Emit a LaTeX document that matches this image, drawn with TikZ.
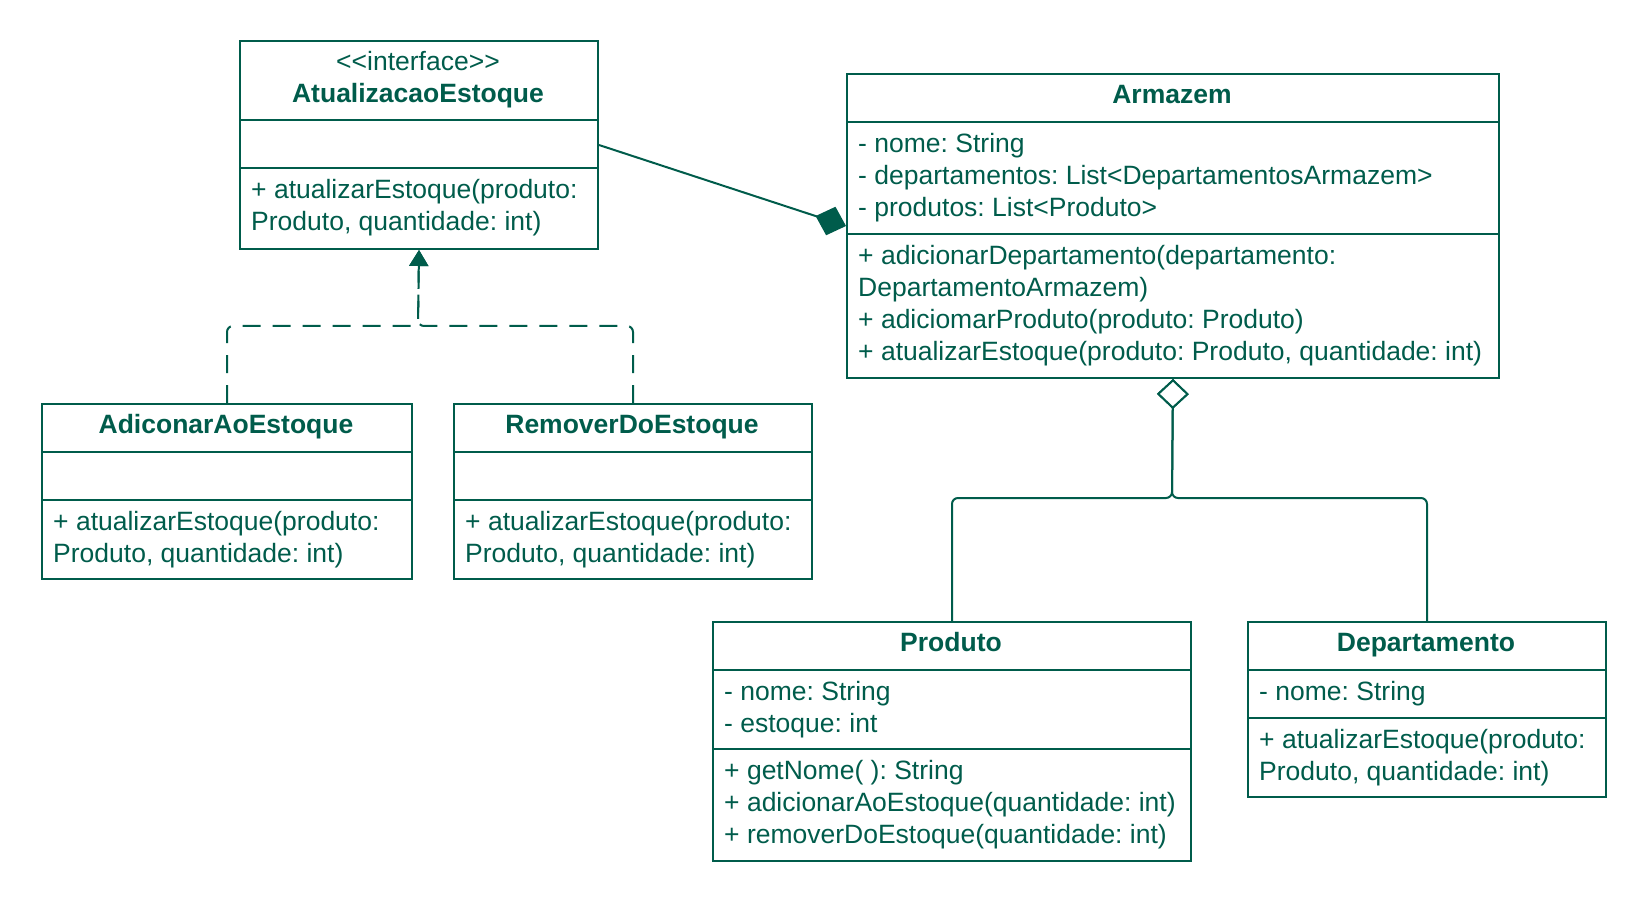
\documentclass[tikz,border=0pt]{standalone}
\usepackage{fontspec}
\setmainfont{Liberation Sans}
\usetikzlibrary{arrows.meta}
\definecolor{uml}{HTML}{005C4B}
\frenchspacing
\begin{document}
\begin{tikzpicture}[x=1pt,y=-1pt,
  cls/.style={draw=uml, line width=2pt, anchor=north west, inner sep=0pt, rectangle},
  txt/.style={anchor=base west, inner sep=0pt, yshift=-1.5pt, text=uml, font=\fontsize{26.5}{32}\selectfont\frenchspacing},
  ttl/.style={anchor=base, inner sep=0pt, yshift=-1.5pt, text=uml, font=\fontsize{26.5}{32}\selectfont\bfseries},
  stereo/.style={anchor=base, inner sep=0pt, yshift=-2.5pt, text=uml, font=\fontsize{26.5}{32}\selectfont},
  conn/.style={draw=uml, line width=2pt},
  realize/.style={conn, dash pattern=on 18pt off 12pt, rounded corners=6pt, -{Triangle[length=16pt,width=19pt]}},
  compose/.style={conn, -{Diamond[length=32pt,width=30pt]}},
  aggreg/.style={conn, rounded corners=6pt, -{Diamond[open,length=30pt,width=32pt,fill=white]}}
]
\useasboundingbox (0,0) rectangle (1644,901);

% ---------- AtualizacaoEstoque ----------
\node[cls, minimum width=358pt, minimum height=208pt] (iface) at (239,40) {};
\node[cls, minimum width=358pt, minimum height=79pt] (ifaceH) at (239,40) {};
\node[cls, minimum width=358pt, minimum height=48pt] (ifaceA) at (239,119) {};
\node[cls, minimum width=358pt, minimum height=81pt] (ifaceM) at (239,167) {};
\node[stereo] (ifaceS) at (418,68) {<\kern0pt<interface>\kern0pt>};
\node[ttl] (ifaceT) at (418,101) {AtualizacaoEstoque};
\node[txt] (ifaceM1) at (251,197) {+ atualizarEstoque(produto:};
\node[txt] (ifaceM2) at (251,229) {Produto, quantidade: int)};

% ---------- Armazem ----------
\node[cls, minimum width=652pt, minimum height=304pt] (arm) at (846,73) {};
\node[cls, minimum width=652pt, minimum height=48pt] (armH) at (846,73) {};
\node[cls, minimum width=652pt, minimum height=112pt] (armA) at (846,121) {};
\node[cls, minimum width=652pt, minimum height=144pt] (armM) at (846,233) {};
\node[ttl] (armT) at (1172,102) {Armazem};
\node[txt] (armA1) at (858,151) {- nome: String};
\node[txt] (armA2) at (858,183) {- departamentos: List<DepartamentosArmazem>};
\node[txt] (armA3) at (858,215) {- produtos: List<Produto>};
\node[txt] (armM1) at (858,263) {+ adicionarDepartamento(departamento:};
\node[txt] (armM2) at (858,295) {DepartamentoArmazem)};
\node[txt] (armM3) at (858,327) {+ adiciomarProduto(produto: Produto)};
\node[txt] (armM4) at (858,359) {+ atualizarEstoque(produto: Produto, quantidade: int)};

% ---------- AdiconarAoEstoque ----------
\node[cls, minimum width=370pt, minimum height=175pt] (add) at (41,403) {};
\node[cls, minimum width=370pt, minimum height=48pt] (addH) at (41,403) {};
\node[cls, minimum width=370pt, minimum height=48pt] (addA) at (41,451) {};
\node[ttl] (addT) at (226,432) {AdiconarAoEstoque};
\node[txt] (addM1) at (53,529) {+ atualizarEstoque(produto:};
\node[txt] (addM2) at (53,561) {Produto, quantidade: int)};

% ---------- RemoverDoEstoque ----------
\node[cls, minimum width=358pt, minimum height=175pt] (rem) at (453,403) {};
\node[cls, minimum width=358pt, minimum height=48pt] (remH) at (453,403) {};
\node[cls, minimum width=358pt, minimum height=48pt] (remA) at (453,451) {};
\node[ttl] (remT) at (632,432) {RemoverDoEstoque};
\node[txt] (remM1) at (465,529) {+ atualizarEstoque(produto:};
\node[txt] (remM2) at (465,561) {Produto, quantidade: int)};

% ---------- Produto ----------
\node[cls, minimum width=478pt, minimum height=239pt] (prod) at (712,621) {};
\node[cls, minimum width=478pt, minimum height=48pt] (prodH) at (712,621) {};
\node[cls, minimum width=478pt, minimum height=79pt] (prodA) at (712,669) {};
\node[ttl] (prodT) at (951,650) {Produto};
\node[txt] (prodA1) at (724,699) {- nome: String};
\node[txt] (prodA2) at (724,731) {- estoque: int};
\node[txt] (prodM1) at (724,778) {+ getNome( ): String};
\node[txt] (prodM2) at (724,810) {+ adicionarAoEstoque(quantidade: int)};
\node[txt] (prodM3) at (724,842) {+ removerDoEstoque(quantidade: int)};

% ---------- Departamento ----------
\node[cls, minimum width=358pt, minimum height=175pt] (dep) at (1247,621) {};
\node[cls, minimum width=358pt, minimum height=48pt] (depH) at (1247,621) {};
\node[cls, minimum width=358pt, minimum height=48pt] (depA) at (1247,669) {};
\node[ttl] (depT) at (1426,650) {Departamento};
\node[txt] (depA1) at (1259,699) {- nome: String};
\node[txt] (depM1) at (1259,747) {+ atualizarEstoque(produto:};
\node[txt] (depM2) at (1259,779) {Produto, quantidade: int)};

% ---------- connectors ----------
\coordinate (rj) at (418,326);
\coordinate (aj) at (1172,498);

\draw[compose] (iface.east) -- (arm.west);
\draw[realize] (add.north) |- (rj) -- (iface.south);
\draw[realize] (rem.north) |- (rj) -- (iface.south);
\draw[aggreg] (prod.north) |- (aj) -- (arm.south);
\draw[aggreg] (dep.north) |- (aj) -- (arm.south);
\end{tikzpicture}
\end{document}
